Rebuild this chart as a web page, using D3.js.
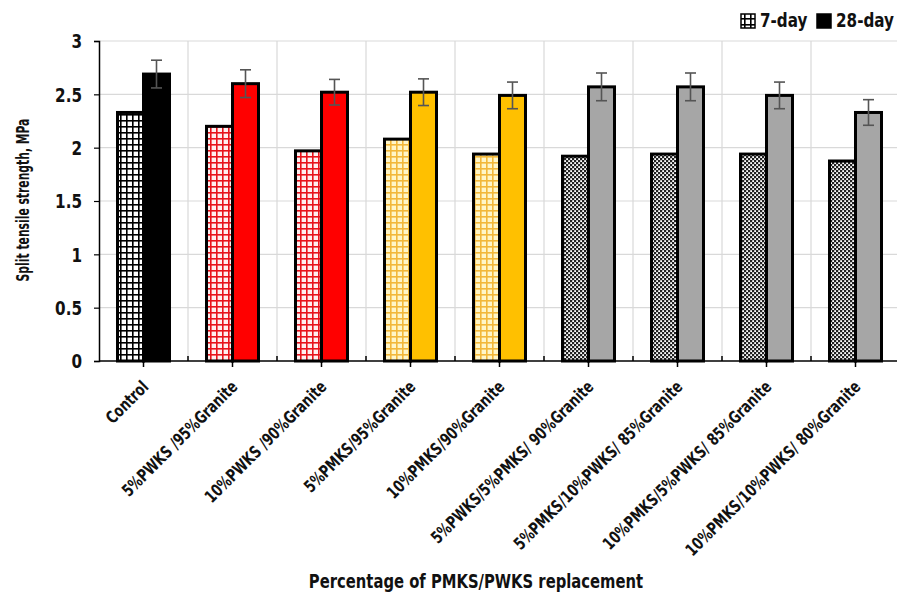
<!DOCTYPE html>
<html>
<head>
<meta charset="utf-8">
<script src="https://cdn.jsdelivr.net/npm/d3@7/dist/d3.min.js"></script>
<style>
  html, body { margin: 0; padding: 0; background: #fff; }
  svg { display: block; }
  text { font-family: "DejaVu Sans", "Liberation Sans", sans-serif; font-weight: bold; fill: #111; }
</style>
</head>
<body>
<svg id="chart" width="897" height="602"></svg>
<script>
// Split tensile strength (MPa) of concrete mixes at 7 and 28 days
const categories = [
  "Control",
  "5%PWKS /95%Granite",
  "10%PWKS /90%Granite",
  "5%PMKS/95%Granite",
  "10%PMKS/90%Granite",
  "5%PWKS/5%PMKS/ 90%Granite",
  "5%PMKS/10%PWKS/ 85%Granite",
  "10%PMKS/5%PWKS/ 85%Granite",
  "10%PMKS/10%PWKS/ 80%Granite"
];
const day7 = [2.33, 2.20, 1.97, 2.08, 1.94, 1.92, 1.94, 1.94, 1.875];
const day28 = [2.69, 2.60, 2.52, 2.52, 2.49, 2.57, 2.57, 2.49, 2.33];
const err28 = [0.13, 0.13, 0.12, 0.125, 0.125, 0.13, 0.13, 0.125, 0.12];
const yTicks = [0, 0.5, 1, 1.5, 2, 2.5, 3];
const seriesNames = ["7-day", "28-day"];

// mix group per category: control, PWKS, PMKS, blended
const groupOf = [0, 1, 1, 2, 2, 3, 3, 3, 3];
const solidFill = ["#000000", "#ff0000", "#ffc000", "#a6a6a6"];

// narrow, heavy lettering: bold glyphs squeezed horizontally
const SQUEEZE = 0.8;

const svg = d3.select("#chart");
const M = { left: 99, right: 900, top: 41, bottom: 361 };

const x = d3.scaleBand().domain(categories).range([M.left, M.right]).padding(0);
const y = d3.scaleLinear().domain([0, 3]).range([M.bottom, M.top]);
const barW = 26;

// hatch patterns for the 7-day bars
const defs = svg.append("defs");
function gridPattern(id, bg, line) {
  const p = defs.append("pattern").attr("id", id).attr("patternUnits", "userSpaceOnUse")
    .attr("width", 6).attr("height", 6);
  p.append("rect").attr("width", 6).attr("height", 6).attr("fill", bg);
  p.append("rect").attr("x", 0).attr("y", 0).attr("width", 6).attr("height", 1.6).attr("fill", line);
  p.append("rect").attr("x", 0).attr("y", 0).attr("width", 1.6).attr("height", 6).attr("fill", line);
}
gridPattern("grid0", "#ffffff", "#000000");
gridPattern("grid1", "#fff0f0", "#e8141c");
gridPattern("grid2", "#fff6c8", "#f2b83a");
(function () {
  const p = defs.append("pattern").attr("id", "grid3").attr("patternUnits", "userSpaceOnUse")
    .attr("width", 4).attr("height", 4);
  p.append("rect").attr("width", 4).attr("height", 4).attr("fill", "#222");
  p.append("rect").attr("x", 0.2).attr("y", 0.2).attr("width", 1.8).attr("height", 1.8).attr("fill", "#ffffff");
  p.append("rect").attr("x", 2.2).attr("y", 2.2).attr("width", 1.8).attr("height", 1.8).attr("fill", "#ffffff");
})();

// gridlines
svg.append("g").selectAll("line").data(yTicks.filter(d => d > 0)).join("line")
  .attr("x1", M.left).attr("x2", M.right)
  .attr("y1", d => y(d)).attr("y2", d => y(d))
  .attr("stroke", "#d9d9d9").attr("stroke-width", 1.2);
svg.append("g").selectAll("line").data(categories.slice(1)).join("line")
  .attr("x1", d => x(d)).attr("x2", d => x(d))
  .attr("y1", M.top).attr("y2", M.bottom)
  .attr("stroke", "#d9d9d9").attr("stroke-width", 1.2);

// bars
const gBars = svg.append("g");
categories.forEach((c, i) => {
  const cx = x(c) + x.bandwidth() / 2;
  gBars.append("rect")
    .attr("x", cx - barW).attr("y", y(day7[i]))
    .attr("width", barW).attr("height", y(0) - y(day7[i]))
    .attr("fill", `url(#grid${groupOf[i]})`)
    .attr("stroke", "#000").attr("stroke-width", 3);
  gBars.append("rect")
    .attr("x", cx).attr("y", y(day28[i]))
    .attr("width", barW).attr("height", y(0) - y(day28[i]))
    .attr("fill", solidFill[groupOf[i]])
    .attr("stroke", "#000").attr("stroke-width", 3);
});

// error bars on the 28-day bars
const gErr = svg.append("g").attr("stroke", "#555").attr("stroke-width", 1.6);
categories.forEach((c, i) => {
  const ex = x(c) + x.bandwidth() / 2 + barW / 2;
  const hi = y(day28[i] + err28[i]), lo = y(day28[i] - err28[i]);
  gErr.append("line").attr("x1", ex).attr("x2", ex).attr("y1", hi).attr("y2", lo);
  gErr.append("line").attr("x1", ex - 5.5).attr("x2", ex + 5.5).attr("y1", hi).attr("y2", hi);
  gErr.append("line").attr("x1", ex - 5.5).attr("x2", ex + 5.5).attr("y1", lo).attr("y2", lo);
});

// y axis
const yAxis = svg.append("g").attr("transform", `translate(${M.left},0)`)
  .call(d3.axisLeft(y).tickValues(yTicks).tickFormat(d => String(d)).tickSize(5).tickPadding(12));
yAxis.select(".domain").attr("stroke", "#000").attr("stroke-width", 1.5);
yAxis.selectAll(".tick line").attr("stroke", "#000").attr("stroke-width", 1.2);
yAxis.selectAll(".tick text")
  .attr("x", 0).attr("dy", "0.36em")
  .attr("transform", `translate(-17,0) scale(${SQUEEZE},1)`)
  .style("font-size", "19px").attr("fill", "#111");

// x axis: ticks below at category centres, short marks above at band edges
const xAxis = svg.append("g").attr("transform", `translate(0,${M.bottom})`)
  .call(d3.axisBottom(x).tickSize(6).tickFormat(""));
xAxis.select(".domain").attr("stroke", "#000").attr("stroke-width", 1.5).attr("d", `M${M.left},0H${M.right}`);
xAxis.selectAll(".tick line").attr("stroke", "#000").attr("stroke-width", 1.5);
svg.append("g").selectAll("line").data(categories.slice(1)).join("line")
  .attr("x1", d => x(d)).attr("x2", d => x(d))
  .attr("y1", M.bottom - 5).attr("y2", M.bottom)
  .attr("stroke", "#000").attr("stroke-width", 1.5);

// rotated category labels
svg.append("g").selectAll("text").data(categories).join("text")
  .attr("transform", d => `translate(${x(d) + x.bandwidth() / 2 + 6},${M.bottom + 27}) rotate(-45) scale(0.74,1)`)
  .attr("text-anchor", "end")
  .style("font-size", "17px")
  .text(d => d);

// axis titles
svg.append("text")
  .attr("transform", `translate(29,${(M.top + M.bottom) / 2 - 1}) rotate(-90) scale(0.6,1)`)
  .attr("text-anchor", "middle")
  .style("font-size", "18px")
  .text("Split tensile strength, MPa");
svg.append("text")
  .attr("transform", `translate(476,588) scale(0.74,1)`)
  .attr("text-anchor", "middle")
  .style("font-size", "20px")
  .text("Percentage of PMKS/PWKS replacement");

// legend
const legend = svg.append("g");
const legendItems = [
  { name: seriesNames[0], fill: "url(#grid0)", x: 741 },
  { name: seriesNames[1], fill: "#000", x: 817 }
];
legendItems.forEach(it => {
  legend.append("rect").attr("x", it.x).attr("y", 14).attr("width", 14).attr("height", 14)
    .attr("fill", it.fill).attr("stroke", "#000").attr("stroke-width", 1.5);
  legend.append("text")
    .attr("transform", `translate(${it.x + 19},27) scale(${SQUEEZE},1)`)
    .style("font-size", "19px").text(it.name);
});
</script>
</body>
</html>
